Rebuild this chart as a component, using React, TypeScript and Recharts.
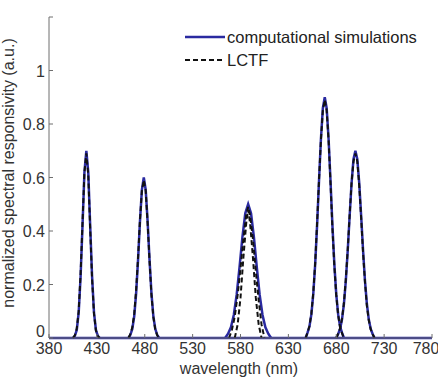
import { LineChart, Line, XAxis, YAxis } from 'recharts'

// wavelength ticks (nm) and responsivity ticks
const X_TICKS = [380, 430, 480, 530, 580, 630, 680, 730, 780]
const Y_TICKS = [0, 0.2, 0.4, 0.6, 0.8, 1, 1.2]

// zero line across the whole range
const BASE_NM = [380, 780]
const BASE_V = [0, 0]

// band 1 (~419 nm)
const B1_NM = [405, 407, 409, 411, 413, 415, 417, 419, 421, 423, 425, 427, 429, 431, 433]
const B1_SIM = [0, 0.008, 0.03, 0.095, 0.23, 0.42, 0.62, 0.7, 0.62, 0.42, 0.23, 0.095, 0.03, 0.008, 0]
const B1_LCTF = [0, 0.01, 0.035, 0.1, 0.24, 0.43, 0.62, 0.69, 0.61, 0.41, 0.22, 0.09, 0.028, 0.007, 0]

// band 2 (~479 nm)
const B2_NM = [463, 465, 467, 469, 471, 473, 475, 477, 479, 481, 483, 485, 487, 489, 491, 493, 495]
const B2_SIM = [0, 0.012, 0.034, 0.081, 0.167, 0.292, 0.436, 0.554, 0.6, 0.554, 0.436, 0.292, 0.167, 0.081, 0.034, 0.012, 0]
const B2_LCTF = [0, 0.015, 0.04, 0.09, 0.18, 0.3, 0.44, 0.55, 0.59, 0.55, 0.43, 0.29, 0.16, 0.078, 0.032, 0.01, 0]

// band 3 (~588 nm): one wide simulated curve, narrower LCTF curves inside it
const B3_NM = [564, 567, 570, 573, 576, 579, 582, 585, 588, 591, 594, 597, 600, 603, 606, 609, 612]
const B3_SIM = [0, 0.016, 0.04, 0.086, 0.162, 0.265, 0.377, 0.466, 0.5, 0.466, 0.377, 0.265, 0.162, 0.086, 0.04, 0.016, 0]
const B3A_NM = [568, 571, 574, 577, 580, 583, 586, 588, 590, 593, 596, 599, 602, 605]
const B3A_LCTF = [0, 0.03, 0.08, 0.16, 0.26, 0.37, 0.46, 0.49, 0.46, 0.37, 0.25, 0.14, 0.05, 0]
const B3B_NM = [574, 577, 580, 583, 586, 588, 590, 593, 596, 599, 602]
const B3B_LCTF = [0, 0.05, 0.15, 0.3, 0.43, 0.48, 0.43, 0.3, 0.15, 0.05, 0]

// band 4 (~668 nm)
const B4_NM = [648, 650, 652, 654, 656, 658, 660, 662, 664, 666, 668, 670, 672, 674, 676, 678, 680, 682, 684, 686, 688]
const B4_SIM = [0, 0.02, 0.043, 0.088, 0.164, 0.276, 0.422, 0.588, 0.744, 0.859, 0.9, 0.859, 0.744, 0.588, 0.422, 0.276, 0.164, 0.088, 0.043, 0.02, 0]
const B4_LCTF = [0, 0.02, 0.045, 0.09, 0.17, 0.28, 0.43, 0.59, 0.74, 0.85, 0.89, 0.85, 0.74, 0.58, 0.41, 0.27, 0.16, 0.085, 0.04, 0.018, 0]

// band 5 (~700 nm)
const B5_NM = [680, 682, 684, 686, 688, 690, 692, 694, 696, 698, 700, 702, 704, 706, 708, 710, 712, 714, 716, 718, 720]
const B5_SIM = [0, 0.015, 0.034, 0.069, 0.127, 0.214, 0.328, 0.457, 0.579, 0.668, 0.7, 0.668, 0.579, 0.457, 0.328, 0.214, 0.127, 0.069, 0.034, 0.015, 0]
const B5_LCTF = [0, 0.016, 0.036, 0.072, 0.13, 0.22, 0.33, 0.46, 0.58, 0.66, 0.69, 0.66, 0.57, 0.45, 0.32, 0.21, 0.12, 0.066, 0.032, 0.014, 0]

const toRows = (nm: number[], v: number[]) => nm.map((x, i) => ({ nm: x, v: v[i] }))

const SIM_LINES = [
  toRows(BASE_NM, BASE_V),
  toRows(B1_NM, B1_SIM),
  toRows(B2_NM, B2_SIM),
  toRows(B3_NM, B3_SIM),
  toRows(B4_NM, B4_SIM),
  toRows(B5_NM, B5_SIM),
]
const LCTF_LINES = [
  toRows(B1_NM, B1_LCTF),
  toRows(B2_NM, B2_LCTF),
  toRows(B3A_NM, B3A_LCTF),
  toRows(B3B_NM, B3B_LCTF),
  toRows(B4_NM, B4_LCTF),
  toRows(B5_NM, B5_LCTF),
]

const SIM_COLOR = '#2a2aa0'
const LCTF_COLOR = '#111111'
const FRAME = '#6e6e6e'
const FONT = '"Liberation Sans", Arial, sans-serif'
const tickStyle = { fontSize: 16, fill: '#333', fontFamily: FONT }

// left axis labels; the 0 sits a little higher so it clears the 380
const YTick = ({ x, y, payload }: any) => {
  const v = payload.value as number
  if (v > 1.1) return null
  return (
    <text x={x} y={y} dy={v === 0 ? -1 : 6} textAnchor="end" {...tickStyle}>
      {String(Math.round(v * 10) / 10)}
    </text>
  )
}

export default function App() {
  return (
    <div style={{ position: 'absolute', left: 0, top: 0, width: 438, height: 385, background: '#fff' }}>
      <LineChart width={438} height={385} margin={{ top: 17, right: 6, bottom: 0, left: 0 }}>
        <XAxis
          xAxisId="b"
          type="number"
          dataKey="nm"
          domain={[380, 780]}
          ticks={X_TICKS}
          height={47}
          tickSize={-4}
          tickMargin={9}
          stroke={FRAME}
          tick={tickStyle}
          allowDataOverflow
        />
        <XAxis
          xAxisId="t"
          orientation="top"
          type="number"
          dataKey="nm"
          domain={[380, 780]}
          ticks={X_TICKS}
          height={0}
          tickSize={-4}
          stroke={FRAME}
          tickFormatter={() => ''}
        />
        <YAxis
          yAxisId="l"
          type="number"
          domain={[0, 1.2]}
          ticks={Y_TICKS}
          width={49}
          tickSize={-4}
          tickMargin={8}
          stroke={FRAME}
          tick={<YTick />}
        />
        <YAxis
          yAxisId="r"
          orientation="right"
          type="number"
          domain={[0, 1.2]}
          ticks={Y_TICKS}
          width={0}
          tickSize={-4}
          stroke={FRAME}
          tickFormatter={() => ''}
        />
        {SIM_LINES.map((d, i) => (
          <Line
            key={'s' + i}
            xAxisId="b"
            yAxisId="l"
            data={d}
            dataKey="v"
            type="linear"
            stroke={SIM_COLOR}
            strokeWidth={2.5}
            dot={false}
            isAnimationActive={false}
          />
        ))}
        {LCTF_LINES.map((d, i) => (
          <Line
            key={'l' + i}
            xAxisId="b"
            yAxisId="l"
            data={d}
            dataKey="v"
            type="linear"
            stroke={LCTF_COLOR}
            strokeWidth={2}
            strokeDasharray="5 3"
            dot={false}
            isAnimationActive={false}
          />
        ))}
      </LineChart>
      <svg
        width={438}
        height={385}
        style={{ position: 'absolute', left: 0, top: 0, pointerEvents: 'none' }}
        fontFamily={FONT}
      >
        <line x1={185} y1={37} x2={225} y2={37} stroke={SIM_COLOR} strokeWidth={2.5} />
        <text x={227} y={43} fontSize={16.5} fill="#222">computational simulations</text>
        <line x1={185} y1={60} x2={225} y2={60} stroke={LCTF_COLOR} strokeWidth={2} strokeDasharray="5 3" />
        <text x={227} y={66} fontSize={16.5} fill="#222">LCTF</text>
        <text x={239} y={374} fontSize={16} fill="#333" textAnchor="middle">wavelength (nm)</text>
        <text
          x={14}
          y={173}
          fontSize={16}
          fill="#333"
          textAnchor="middle"
          transform="rotate(-90 14 173)"
        >
          normalized spectral responsivity (a.u.)
        </text>
      </svg>
    </div>
  )
}
